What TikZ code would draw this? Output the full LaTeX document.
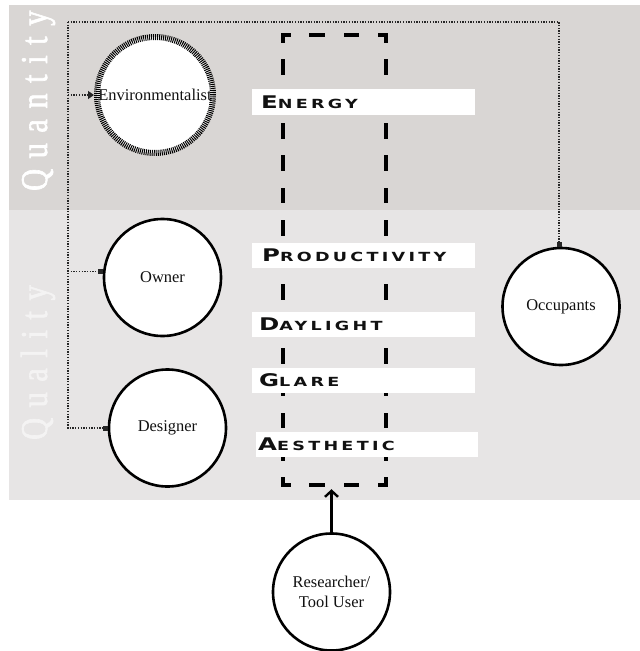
\documentclass[tikz,border=0pt]{standalone}
\usepackage{fontspec}
\setmainfont{Liberation Serif}
\newfontfamily\bandfont[FakeStretch=0.8,FakeBold=1.6,LetterSpace=28]{Liberation Serif}
\newfontfamily\themefont[FakeStretch=1.4,LetterSpace=26]{DejaVu Sans}
\usetikzlibrary{arrows.meta}

\definecolor{quantbg}{HTML}{D9D6D4}
\definecolor{qualbg}{HTML}{E7E5E5}
\definecolor{qualtext}{HTML}{F4F3F3}
\definecolor{ink}{HTML}{111111}

% large first letter followed by small capitals
\newcommand\smcap[2]{{\fontsize{17.5}{18}\selectfont #1}{\fontsize{12.6}{13}\selectfont #2}}

\begin{document}
\begin{tikzpicture}[x=1bp,y=-1bp,
  actor/.style={circle,draw=black,line width=2.6bp,fill=white,minimum size=117bp,
    inner sep=0pt,font=\fontsize{16.5}{20}\selectfont,align=center,text=ink},
  ringactor/.style={actor,line width=6bp,dash pattern=on 1bp off 1bp,minimum size=116bp},
  theme/.style={fill=white,anchor=west,minimum height=25bp,inner ysep=0pt,
    align=left,font=\themefont\bfseries,text=ink},
  bandlabel/.style={anchor=base west,rotate=90,inner sep=0pt,
    font=\bandfont\fontsize{38}{38}\selectfont},
  link/.style={line width=1.3bp,dash pattern=on 1.3bp off 1.4bp,draw=black!85},
  sqtip/.style={-{Square[length=5bp,width=5bp]}},
  frameline/.style={line width=3.8bp,line cap=rect},
  vdash/.style={dash pattern=on 12bp off 20.14bp,dash phase=6bp},
  hdash/.style={dash pattern=on 12bp off 22.33bp,dash phase=6bp}]

\useasboundingbox (0,0) rectangle (640,651);

% background bands
\fill[quantbg] (9,5) rectangle (640,210);
\fill[qualbg] (9,210) rectangle (640,500);
\node[bandlabel,text=white] (quantity) at (47,191) {Quantity};
\node[bandlabel,text=qualtext] (quality) at (47,440) {Quality};

% dashed frame around the criteria
\node[inner sep=0pt,minimum width=103bp,minimum height=450bp] (frame) at (334.5,260) {};
\draw[frameline,vdash] (frame.north west) -- (frame.south west);
\draw[frameline,vdash] (frame.north east) -- (frame.south east);
\draw[frameline,hdash] (frame.north west) -- (frame.north east);
\draw[frameline,hdash] (frame.south west) -- (frame.south east);

% criteria bars
\node[theme,inner xsep=9bp,text width=205bp] (energy) at (252,102) {\smcap{E}{NERGY}};
\node[theme,inner xsep=10bp,text width=203bp] (productivity) at (252,255.5) {\smcap{P}{RODUCTIVITY}};
\node[theme,inner xsep=7bp,text width=209bp] (daylight) at (252,324.5) {\smcap{D}{AYLIGHT}};
\node[theme,inner xsep=7bp,text width=209bp] (glare) at (252,380.5) {\smcap{G}{LARE}};
\node[theme,inner xsep=2bp,text width=218bp] (aesthetic) at (256,444.5) {\smcap{A}{ESTHETIC}};

% stakeholders
\node[ringactor] (env) at (155,95) {Environmentalist};
\node[actor] (own) at (162.5,277.5) {Owner};
\node[actor] (des) at (167.5,428) {Designer};
\node[actor] (occ) at (561,306.5) {Occupants};
\node[actor] (res) at (331.5,592) {Researcher/\\Tool User};

% dotted links
\coordinate (tl) at (68,22);
\coordinate (tr) at (559,22);
\draw[link,sqtip] (tl) -- (tr) -- (tr |- occ.north);
\draw[link,sqtip] (tl) -- (tl |- des.west) -- (des.west);
\draw[link,sqtip] (tl |- own.174) -- (own.174);
\draw[link,-{Triangle[length=6bp,width=8bp]}] (tl |- env.west) -- (env.west);

% researcher arrow
\draw[line width=2.4bp,-{Straight Barb[length=6bp,width=13bp]},shorten >=4bp]
  (res.north) -- (res.north |- frame.south);
\end{tikzpicture}
\end{document}
